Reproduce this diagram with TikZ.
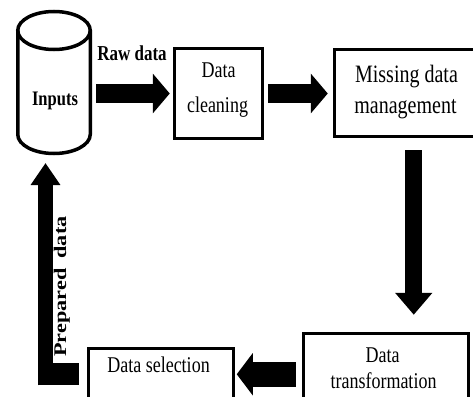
\documentclass[tikz,border=0pt]{standalone}
\usepackage{fontspec}
\setmainfont{Liberation Serif}
\usepackage{graphicx}
\usetikzlibrary{arrows.meta,calc}
\newcommand\vst[1]{\scalebox{1}[1.25]{#1}}
\begin{document}
\begin{tikzpicture}[x=1pt,y=1pt,
  box/.style={draw=black,line width=3.5pt,inner sep=0pt,outer sep=1.75pt,fill=white},
  txt/.style={font=\fontsize{18}{20}\selectfont,inner sep=0pt,anchor=base,text=black},
  bigtxt/.style={txt,font=\fontsize{20}{22}\selectfont},
  boldtxt/.style={txt,font=\fontsize{17}{19}\selectfont\bfseries},
  cylline/.style={draw=black,line width=3.5pt},
  harrow/.style={draw=black,line width=19pt,-{Triangle[width=39pt,length=17pt]}},
  varrow/.style={draw=black,line width=17pt,-{Triangle[width=36pt,length=22pt]}},
  larrow/.style={draw=black,line width=25pt,-{Triangle[width=41.5pt,length=16pt]}},
  uparrow/.style={draw=black,line width=14.4pt,-{Triangle[width=28.3pt,length=22pt]}},
  lbar/.style={draw=black,line width=22pt}
]
\useasboundingbox (0,0) rectangle (473,-396);

% cylinder "Inputs"
\node[minimum width=76pt,minimum height=145pt,inner sep=0pt,outer sep=0pt] (cyl) at (54,-82.5) {};
\draw[cylline] (17.75,-30.5) -- (17.75,-134.5)
  arc[start angle=180,end angle=360,x radius=36.25,y radius=19] -- (90.25,-30.5);
\draw[cylline] (54,-30.5) ellipse [x radius=36.25,y radius=19];
\node[boldtxt,font=\fontsize{16.5}{18}\selectfont\bfseries] (inputs) at (55,-105) {\vst{Inputs}};

% boxes
\node[box,minimum width=88pt,minimum height=90pt] (clean) at (218.5,-93.5) {};
\node[box,minimum width=141.5pt,minimum height=87pt] (miss) at (405.25,-93) {};
\node[box,minimum width=165pt,minimum height=66.5pt] (trans) at (386,-366.75) {};
\node[box,minimum width=145pt,minimum height=51.5pt] (sel) at (161,-374.25) {};

% texts
\node[boldtxt] (raw) at (132,-60) {\vst{Raw data}};
\node[txt] (clean-a) at (218.5,-77) {\vst{Data}};
\node[txt] (clean-b) at (217.5,-112) {\vst{cleaning}};
\node[bigtxt] (miss-a) at (406.5,-82) {\vst{Missing data}};
\node[bigtxt] (miss-b) at (405.5,-113) {\vst{management}};
\node[txt] (trans-a) at (382.5,-362) {\vst{Data}};
\node[txt] (trans-b) at (383.5,-388) {\vst{transformation}};
\node[txt] (sel-a) at (158.5,-372) {\vst{Data selection}};
\node[boldtxt,font=\fontsize{17.8}{19}\selectfont\bfseries,rotate=90] (prep) at (66,-286.5)
  {\scalebox{1.25}[1]{Prepared\hspace{0.45em}data}};

% arrows
\draw[harrow] ([xshift=4pt]cyl.east |- clean.west) -- ([xshift=-3pt]clean.west);
\draw[harrow] ([xshift=4pt]clean.east) -- ([xshift=-5pt]miss.west |- clean.east);
\coordinate (d1) at ([xshift=8.5pt,yshift=-12pt]miss.south);
\draw[varrow] (d1) -- ($(d1 |- trans.north)+(0,17pt)$);
\draw[larrow] ($(trans.west |- sel.east)+(-6pt,0)$) -- ($(sel.east)+(1.5pt,0)$);

% L-shaped return arrow
\coordinate (lstart) at ([xshift=-8pt]sel.west);
\coordinate (ltip) at ($(cyl.south)+(-8.5pt,-8pt)$);
\coordinate (lcorner) at (ltip |- lstart);
\draw[lbar] (lstart) -- ($(lcorner)+(-7.2pt,0)$);
\draw[uparrow] ($(lcorner)+(0,-11pt)$) -- (ltip);
\end{tikzpicture}
\end{document}
